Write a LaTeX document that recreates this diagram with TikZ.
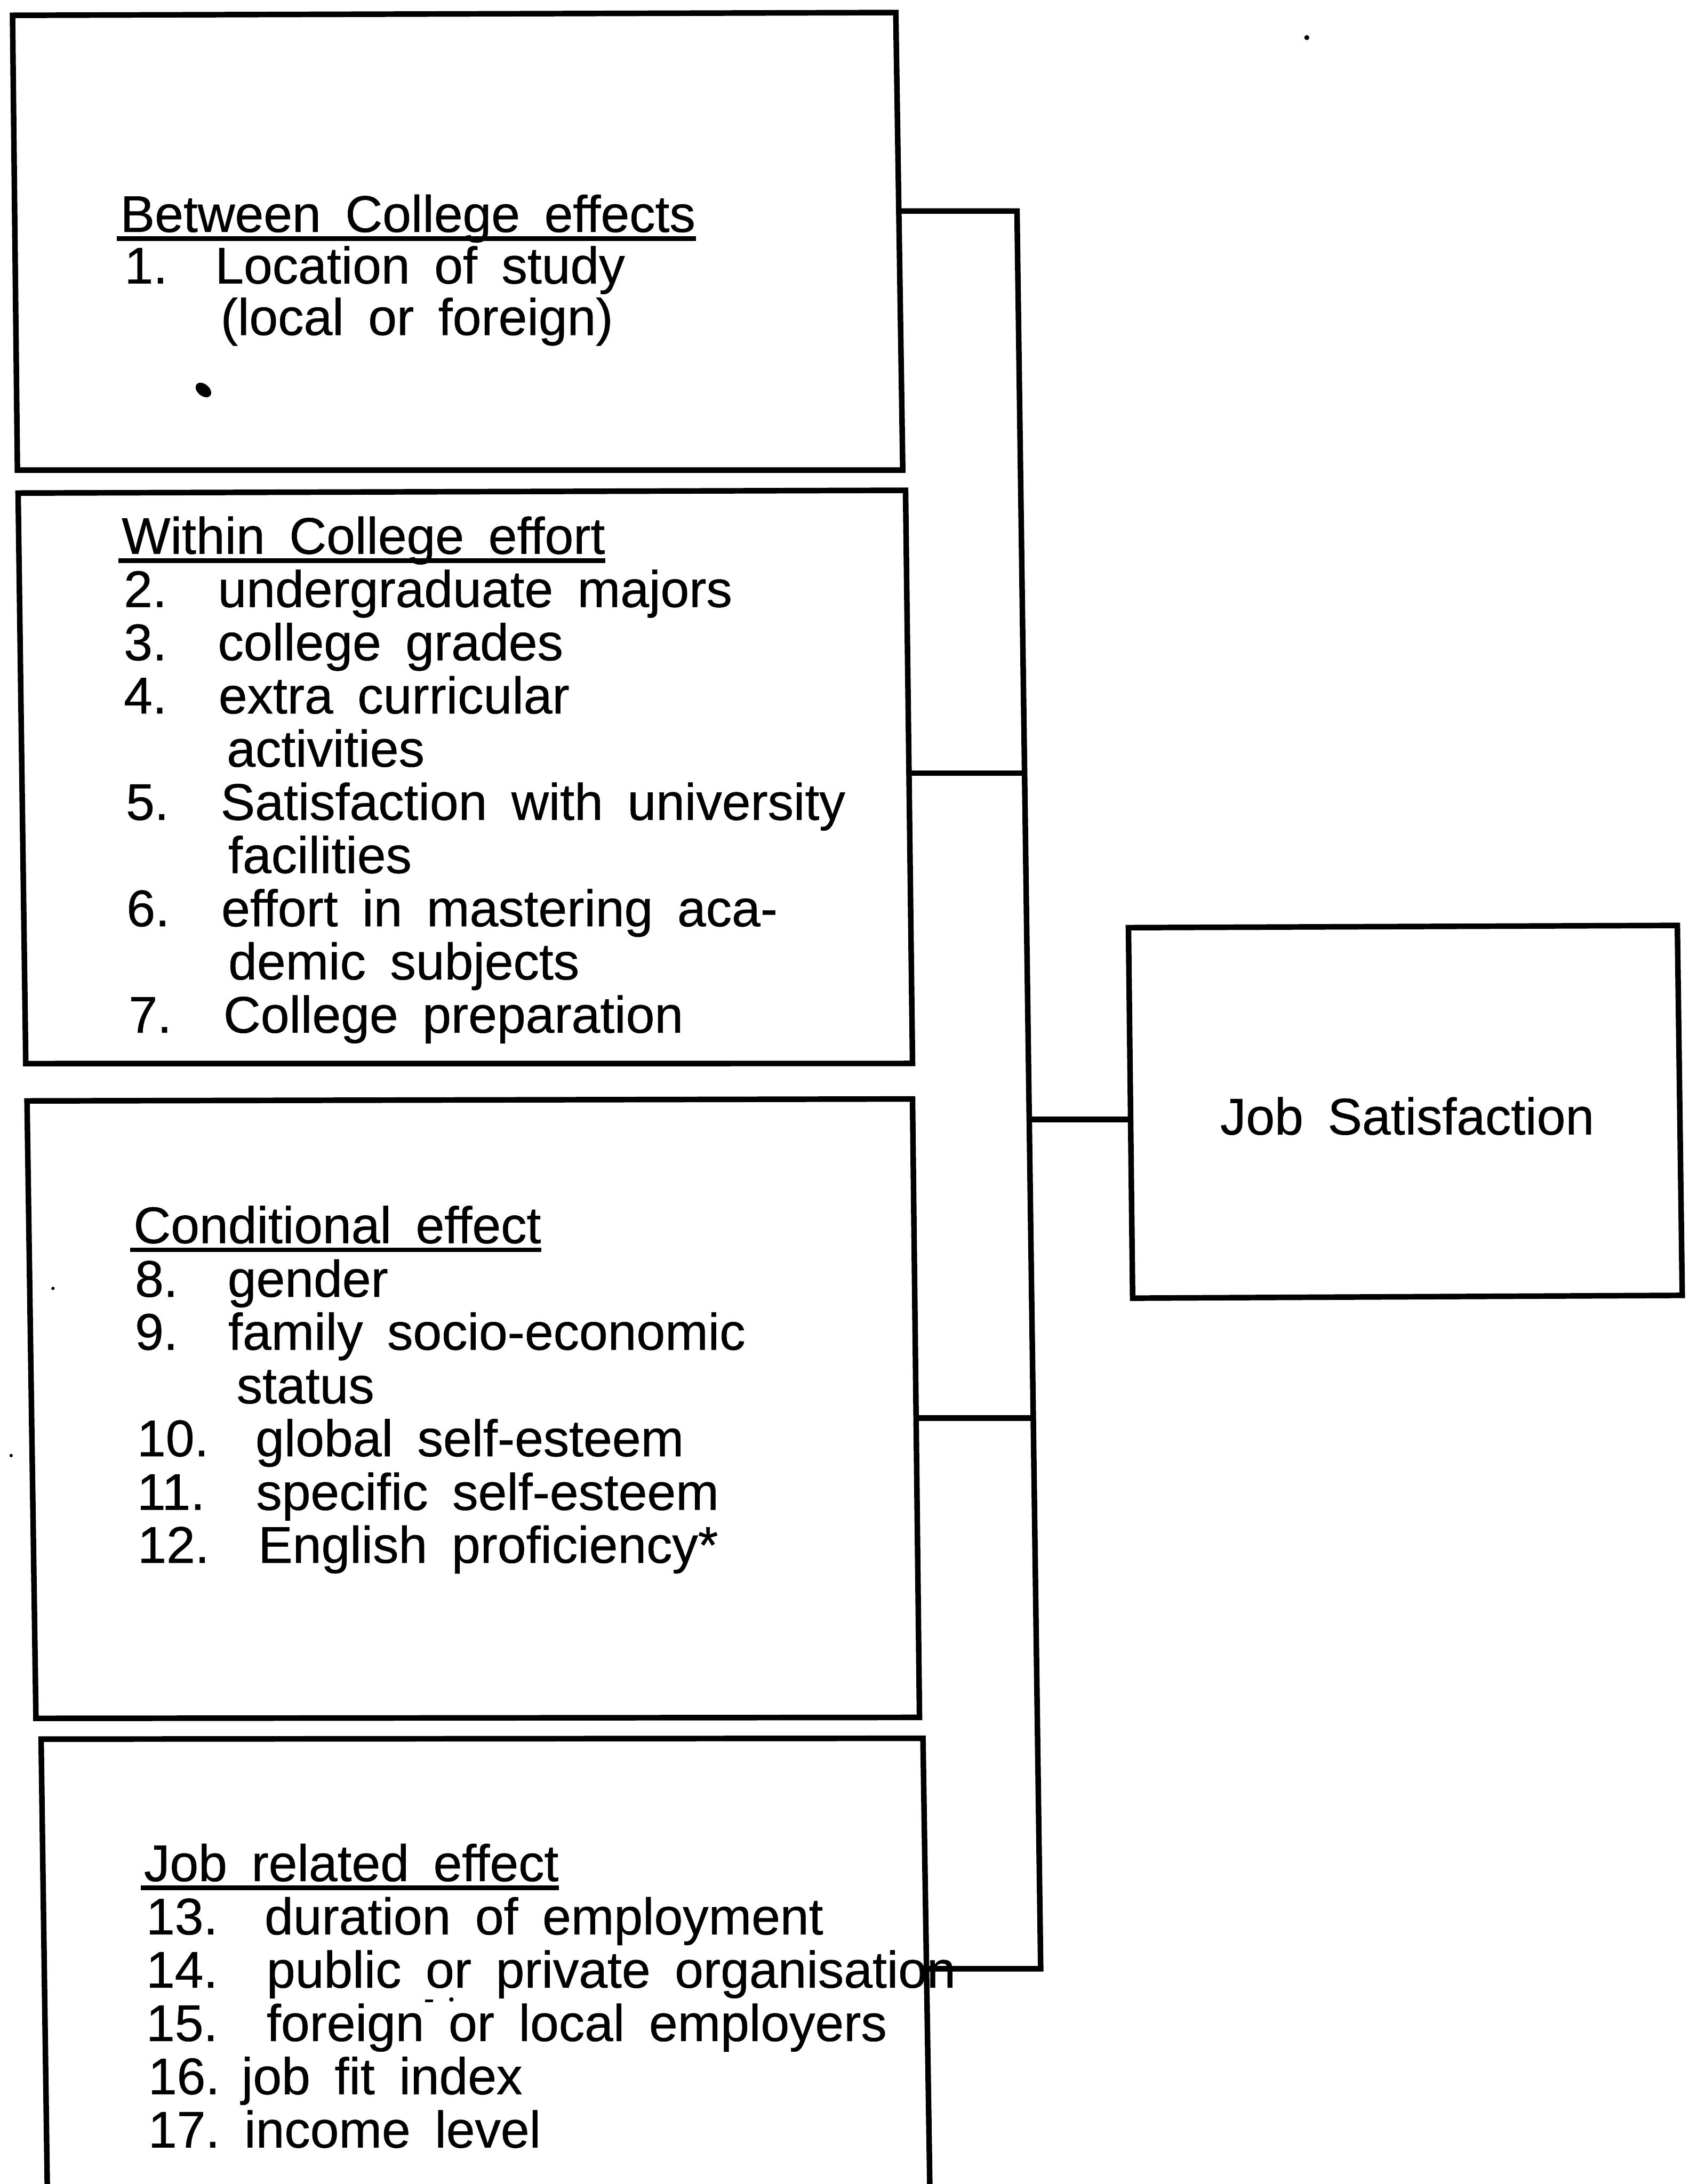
\documentclass[tikz,border=0pt]{standalone}
\usepackage{fontspec}
\setmainfont{Liberation Sans}[WordSpace=1.7,FakeBold=0.6]
\newcommand\lineitem[6]{%
  \node[txt] (#1n) at (#2,#4) {#5};
  \node[txt] (#1t) at (#3,#4) {#6};}
\begin{document}
\begin{tikzpicture}[x=0.5pt,y=-0.5pt]
\tikzset{
  boxline/.style={line width=2pt, line join=miter},
  conn/.style={line width=2pt, line join=miter},
  uline/.style={line width=1.7pt},
  txt/.style={anchor=base west, inner sep=0pt, font=\fontsize{18.5}{19}\selectfont},
}
\useasboundingbox (0,0) rectangle (1212,1568);

% boxes
\draw[boxline] (9,11) -- (643,9) -- (648,337.5) -- (12.5,337.5) -- cycle;
\draw[boxline] (13,354) -- (650,352) -- (655,763.5) -- (18.5,763.6) -- cycle;
\draw[boxline] (19.4,790.4) -- (655,789) -- (660,1233) -- (25.8,1233.7) -- cycle;
\draw[boxline] (34,1575) -- (29.5,1248.6) -- (662.5,1248) -- (667.5,1575);
\draw[boxline] (810,666) -- (1204,664.4) -- (1207.5,930) -- (813,932) -- cycle;

% connector points
\coordinate (e1) at (645.3,151.5);
\coordinate (e2) at (652.5,555);
\coordinate (e3) at (657.6,1018);
\coordinate (e4) at (663,1413.5);
\coordinate (ej) at (811,803.7);
\coordinate (j1) at (730,151.5);
\coordinate (j2) at (735.4,555);
\coordinate (j3) at (739,803.7);
\coordinate (j4) at (741.8,1018);
\coordinate (j5) at (747,1413.5);
\draw[conn] (e1) -- (j1) -- (j5) -- (e4);
\draw[conn] (e2) -- (j2);
\draw[conn] (j3) -- (ej);
\draw[conn] (e3) -- (j4);

% box 1
\node[txt] (h1) at (86,166.5) {Between College effects};
\draw[uline] ([xshift=-1pt,yshift=-2.4pt]h1.base west) -- ([yshift=-2.4pt]h1.base east);
\lineitem{a1}{89}{154}{203.5}{1.}{Location of study}
\node[txt] (a1c) at (158,240.5) {(local or foreign)};

% box 2
\node[txt] (h2) at (87,397.6) {Within College effort};
\draw[uline] ([xshift=-1pt,yshift=-2.4pt]h2.base west) -- ([yshift=-2.4pt]h2.base east);
\lineitem{a2}{88.5}{156}{435.8}{2.}{undergraduate majors}
\lineitem{a3}{88.5}{156}{474}{3.}{college grades}
\lineitem{a4}{88.5}{156.5}{512.2}{4.}{extra curricular}
\node[txt] (a4c) at (162.4,550.4) {activities};
\lineitem{a5}{90}{158}{588.6}{5.}{Satisfaction with university}
\node[txt] (a5c) at (163.5,626.8) {facilities};
\lineitem{a6}{90.5}{158.5}{665}{6.}{effort in mastering aca-}
\node[txt] (a6c) at (163.5,703.2) {demic subjects};
\lineitem{a7}{92}{160}{741.4}{7.}{College preparation}

% box 3
\node[txt] (h3) at (95.5,892.5) {Conditional effect};
\draw[uline] ([xshift=-1pt,yshift=-2.4pt]h3.base west) -- ([yshift=-2.4pt]h3.base east);
\lineitem{a8}{96.5}{163}{931}{8.}{gender}
\lineitem{a9}{96.5}{163.5}{969}{9.}{family socio-economic}
\node[txt] (a9c) at (169.5,1007.5) {status};
\lineitem{a10}{98}{183}{1045.5}{10.}{global self-esteem}
\lineitem{a11}{98}{183.5}{1084}{11.}{specific self-esteem}
\lineitem{a12}{98.5}{185}{1122}{12.}{English proficiency*}

% box 4
\node[txt] (h4) at (103,1350.5) {Job related effect};
\draw[uline] ([xshift=-1pt,yshift=-2.4pt]h4.base west) -- ([yshift=-2.4pt]h4.base east);
\lineitem{a13}{104.5}{189.5}{1388.8}{13.}{duration of employment}
\lineitem{a14}{104.5}{191}{1427}{14.}{public or private organisation}
\lineitem{a15}{104.5}{191}{1465.3}{15.}{foreign or local employers}
\lineitem{a16}{106}{173}{1503.5}{16.}{job fit index}
\lineitem{a17}{106}{175}{1541.8}{17.}{income level}

% outcome
\node[txt] (js) at (875.5,814.5) {Job Satisfaction};

% specks
\fill[rotate around={-40:(146,280)}] (146,280) ellipse[x radius=3.2pt, y radius=2.1pt];
\fill (938,27) circle[radius=0.9pt];
\fill (38,925) circle[radius=0.6pt];
\fill (8,1045) circle[radius=0.6pt];
\draw[line width=0.9pt] (305,1436.5) -- (311,1436.5);
\fill (324,1435.5) circle[radius=0.8pt];
\end{tikzpicture}
\end{document}
